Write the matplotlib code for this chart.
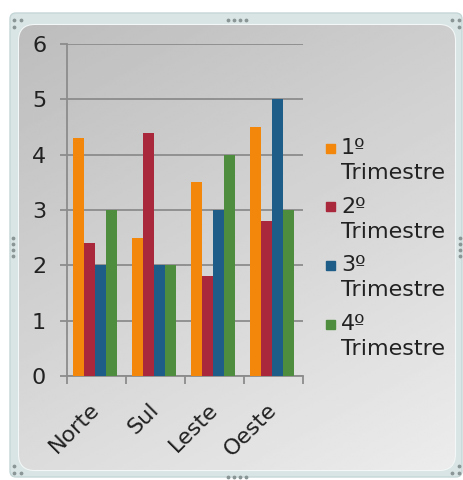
import matplotlib.pyplot as plt
from matplotlib.patches import FancyBboxPatch, Rectangle
import numpy as np

regioes = ["Norte", "Sul", "Leste", "Oeste"]
series = ["1º Trimestre", "2º Trimestre", "3º Trimestre", "4º Trimestre"]
tri1 = [4.3, 2.5, 3.5, 4.5]
tri2 = [2.4, 4.4, 1.8, 2.8]
tri3 = [2.0, 2.0, 3.0, 5.0]
tri4 = [3.0, 2.0, 4.0, 3.0]
cores = ["#F2870C", "#A9283B", "#1E5D87", "#4D8D3D"]

W, H = 464, 480
fig = plt.figure(figsize=(W/100, H/100), dpi=100)
fig.patch.set_facecolor("white")

# background layer in pixel coords
bg = fig.add_axes([0, 0, 1, 1], zorder=0)
bg.set_xlim(0, W)
bg.set_ylim(H, 0)
bg.axis("off")

frame = FancyBboxPatch((10, 13), 452, 464, boxstyle="round,pad=0,rounding_size=6",
                       facecolor="#d9e5e5", edgecolor="#c5d6d6", lw=1)
bg.add_patch(frame)
inner = FancyBboxPatch((19, 25), 436, 445, boxstyle="round,pad=0,rounding_size=16",
                       facecolor="none", edgecolor="#f4f7f7", lw=1.5)
bg.add_patch(inner)
gx, gy = np.meshgrid(np.linspace(0, 1, 200), np.linspace(0, 1, 200))
grad = 0.35 * gx + 0.65 * gy
img = bg.imshow(grad, extent=(19, 455, 470, 25), cmap="gray", vmin=-4.0, vmax=1.4,
                interpolation="bilinear", zorder=1)
img.set_clip_path(inner)

# selection handles
hx = [14, 21, 14, 452, 459, 459, 14, 14, 21, 452, 459, 459]
hy = [20, 20, 27, 20, 20, 27, 466, 473, 473, 473, 473, 466]
bg.scatter(hx, hy, s=3, color="#8a9595", zorder=3)
bg.scatter([228, 234, 240, 246], [20] * 4, s=3, color="#8a9595", zorder=3)
bg.scatter([228, 234, 240, 246], [477] * 4, s=3, color="#8a9595", zorder=3)
bg.scatter([13] * 4, [238, 244, 250, 256], s=3, color="#8a9595", zorder=3)
bg.scatter([460] * 4, [238, 244, 250, 256], s=3, color="#8a9595", zorder=3)

# legend, drawn by hand so the marker sits on the first line
for i, (nome, cor) in enumerate(zip(series, cores)):
    y = 148 + 58.7 * i
    l1, l2 = nome.split(" ")
    bg.add_patch(Rectangle((326, y - 4.5), 9, 9, color=cor, zorder=3))
    bg.text(341, y, l1, fontsize=16, color="#222222", va="center", zorder=3)
    bg.text(341, y + 25, l2, fontsize=16, color="#222222", va="center", zorder=3)

ax = fig.add_axes([67/W, 1 - 376/H, 236/W, 332/H], zorder=2)
ax.patch.set_alpha(0)

x = np.arange(len(regioes))
largura = 0.185
dados = [tri1, tri2, tri3, tri4]
for i, (vals, cor) in enumerate(zip(dados, cores)):
    ax.bar(x + (i - 1.5) * largura - 0.03, vals, largura, color=cor, zorder=3)

ax.set_xlim(-0.5, 3.5)
ax.set_ylim(0, 6)
ax.set_yticks(range(7))
ax.grid(axis="y", color="#8c8c8c", lw=1.3, zorder=1)
ax.set_xticks(np.arange(-0.5, 4, 1))
ax.set_xticklabels([])
ax.set_xticks(x, minor=True)
ax.set_xticklabels(regioes, minor=True, rotation=45, ha="right", va="center",
                   rotation_mode="anchor", fontsize=16, color="#222222")
ax.tick_params(axis="x", which="minor", length=0, pad=22)
ax.tick_params(axis="x", which="major", length=6, color="#8c8c8c", width=1.3)
ax.tick_params(axis="y", length=5, color="#8c8c8c", width=1.3, pad=10,
               labelsize=16, labelcolor="#222222")
for s in ["top", "right"]:
    ax.spines[s].set_visible(False)
for s in ["left", "bottom"]:
    ax.spines[s].set_color("#8c8c8c")
    ax.spines[s].set_linewidth(1.3)

fig.savefig("out.png", dpi=100)
